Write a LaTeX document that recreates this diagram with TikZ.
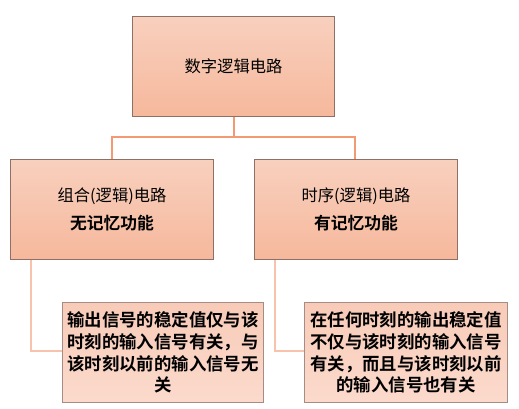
\documentclass[tikz,border=0pt]{standalone}
\usepackage{fontspec}
\usetikzlibrary{backgrounds}
\setmainfont{Noto Sans CJK SC}
\newfontfamily\cjkb{Noto Sans CJK SC Bold}
\definecolor{boxtop}{HTML}{F8D0BE}
\definecolor{boxbot}{HTML}{F6B89C}
\definecolor{boxline}{HTML}{8E7066}
\definecolor{dettop}{HTML}{F8CBB8}
\definecolor{detbot}{HTML}{FBDACC}
\definecolor{conn}{HTML}{F39A72}
\definecolor{connlight}{HTML}{F8C3AD}
\tikzset{
  mainbox/.style={draw=boxline, line width=1pt, top color=boxtop, bottom color=boxbot, inner sep=0pt, anchor=north west, align=center, minimum height=100pt},
  detbox/.style={draw=boxline!80, line width=1pt, top color=dettop, bottom color=detbot, inner sep=0pt, anchor=north west, align=center, minimum height=100pt, font=\fontsize{17.4}{21.7}\cjkb},
  conline/.style={draw=conn, line width=2pt},
  conlinelight/.style={draw=connlight, line width=2pt},
  normtxt/.style={font=\fontsize{16.3}{18}\selectfont},
}
\newcommand{\boldline}[1]{{\fontsize{16.8}{18}\cjkb #1}}
\begin{document}
\begin{tikzpicture}[x=1pt,y=-1pt]
\useasboundingbox (0,0) rectangle (519,408);
\node[mainbox, minimum width=202pt, normtxt] (top) at (132,16) {数字逻辑电路};
\node[mainbox, minimum width=203pt, normtxt] (left) at (10,159) {组合(逻辑)电路\\[10pt]\boldline{无记忆功能}};
\node[mainbox, minimum width=203pt, normtxt] (right) at (254,159) {时序(逻辑)电路\\[10pt]\boldline{有记忆功能}};
\node[detbox, minimum width=201pt] (ld) at (62,302) {输出信号的稳定值仅与该\\时刻的输入信号有关，与\\该时刻以前的输入信号无\\关};
\node[detbox, minimum width=203pt] (rd) at (304,302) {在任何时刻的输出稳定值\\不仅与该时刻的输入信号\\有关，而且与该时刻以前\\的输入信号也有关};
\coordinate (hl) at (112,137);
\coordinate (hr) at (355,137);
\coordinate (lc) at (31,351);
\coordinate (rc) at (275,351);
\begin{scope}[on background layer]
\draw[conline] (top.south) -- (top.south |- hl);
\draw[conline] (left.north -| hl) -- (hl) -- (hr) -- (right.north -| hr);
\draw[conlinelight] (left.south -| lc) -- (lc) -- (ld.west |- lc);
\draw[conlinelight] (right.south -| rc) -- (rc) -- (rd.west |- rc);
\end{scope}
\end{tikzpicture}
\end{document}
